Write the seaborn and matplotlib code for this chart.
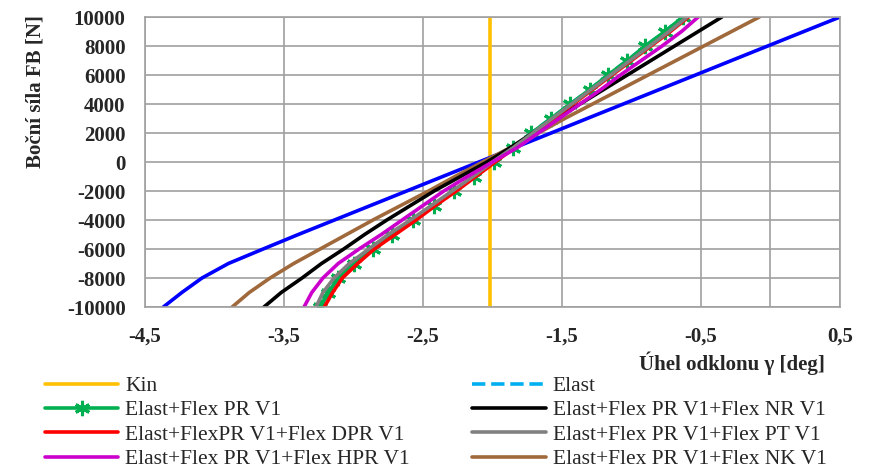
"""
Boční síla FB vs. úhel odklonu gamma for several model variants.
"""
import matplotlib.pyplot as plt
import seaborn as sns
from matplotlib.ticker import FuncFormatter

sns.set_style("white")
plt.rcParams["font.family"] = ["Liberation Serif", "DejaVu Serif"]
plt.rcParams["axes.unicode_minus"] = False

# side force levels [N]
FORCE = [-10000, -9000, -8000, -7000, -6000, -5000, -4000, -3000, -2000, -1000, 0,
         1000, 2000, 3000, 4000, 5000, 6000, 7000, 8000, 9000, 10000]

# camber angle [deg] for each force level
KIN_X = [-2.02, -2.02]
KIN_Y = [-10000, 10000]
PR_V1 = [-3.24, -3.18, -3.11, -3.00, -2.86, -2.72, -2.57, -2.42, -2.28, -2.13, -1.99,
         -1.85, -1.72, -1.58, -1.44, -1.30, -1.17, -1.03, -0.90, -0.76, -0.63]
ELAST = PR_V1
PR_NR = [-3.644, -3.52, -3.37, -3.23, -3.07, -2.92, -2.76, -2.59, -2.42, -2.23, -2.04,
         -1.87, -1.71, -1.54, -1.37, -1.20, -1.03, -0.86, -0.69, -0.52, -0.35]
PR_DPR = [-3.21, -3.15, -3.08, -2.97, -2.85, -2.70, -2.55, -2.41, -2.26, -2.12, -1.98,
          -1.84, -1.70, -1.56, -1.42, -1.28, -1.14, -1.00, -0.86, -0.72, -0.59]
PR_PT = [-3.27, -3.22, -3.14, -3.03, -2.89, -2.75, -2.59, -2.44, -2.29, -2.14, -2.00,
         -1.85, -1.71, -1.57, -1.43, -1.29, -1.15, -1.01, -0.87, -0.73, -0.60]
PR_HPR = [-3.356, -3.30, -3.22, -3.11, -2.96, -2.80, -2.65, -2.50, -2.35, -2.18, -2.00,
          -1.82, -1.67, -1.52, -1.37, -1.22, -1.08, -0.93, -0.78, -0.64, -0.52]
PR_NK = [-3.873, -3.75, -3.60, -3.43, -3.24, -3.05, -2.86, -2.66, -2.46, -2.27, -2.07,
         -1.87, -1.67, -1.48, -1.28, -1.08, -0.88, -0.68, -0.48, -0.28, -0.08]
BLUE = [-4.368, -4.235, -4.09, -3.90, -3.65, -3.397, -3.137, -2.877, -2.617, -2.358, -2.098,
        -1.838, -1.578, -1.319, -1.059, -0.799, -0.539, -0.28, -0.02, 0.24, 0.50]

XTICKS = [-4.5, -3.5, -2.5, -1.5, -0.5, 0.5]
YTICKS = [-10000, -8000, -6000, -4000, -2000, 0, 2000, 4000, 6000, 8000, 10000]

GRID = "#a0a0a0"

fig = plt.figure(figsize=(8.73, 4.73), dpi=100)
ax = fig.add_axes([145 / 873, 1 - 307 / 473, 695 / 873, 290 / 473])

lw = 2.6
sns.lineplot(x=KIN_X, y=KIN_Y, color="#ffc000", linewidth=lw, label="Kin",
             estimator=None, sort=False, ax=ax)
sns.lineplot(x=ELAST, y=FORCE, color="#00b0f0", linewidth=lw, linestyle="--", label="Elast",
             estimator=None, sort=False, ax=ax)
sns.lineplot(x=PR_V1, y=FORCE, color="#00b050", linewidth=lw, marker=(6, 2, 0), markersize=11,
             markeredgewidth=2.2, markeredgecolor="#00b050", label="Elast+Flex PR V1",
             estimator=None, sort=False, ax=ax)
sns.lineplot(x=BLUE, y=FORCE, color="#0000ff", linewidth=lw, label="_nolegend_",
             estimator=None, sort=False, ax=ax)
sns.lineplot(x=PR_NK, y=FORCE, color="#a0693c", linewidth=lw, label="Elast+Flex PR V1+Flex NK V1",
             estimator=None, sort=False, ax=ax)
sns.lineplot(x=PR_NR, y=FORCE, color="black", linewidth=lw, label="Elast+Flex PR V1+Flex NR V1",
             estimator=None, sort=False, ax=ax)
sns.lineplot(x=PR_DPR, y=FORCE, color="#ff0000", linewidth=lw, label="Elast+FlexPR V1+Flex DPR V1",
             estimator=None, sort=False, ax=ax)
sns.lineplot(x=PR_PT, y=FORCE, color="#808080", linewidth=lw, label="Elast+Flex PR V1+Flex PT V1",
             estimator=None, sort=False, ax=ax)
sns.lineplot(x=PR_HPR, y=FORCE, color="#cc00cc", linewidth=lw, label="Elast+Flex PR V1+Flex HPR V1",
             estimator=None, sort=False, ax=ax)

ax.set_xlim(-4.5, 0.5)
ax.set_ylim(-10000, 10000)
ax.set_xticks(XTICKS)
ax.set_yticks(YTICKS)
ax.xaxis.set_major_formatter(FuncFormatter(lambda v, p: "{:.1f}".format(v).replace(".", ",")))
ax.grid(True, color=GRID, linewidth=1.2)
ax.axvline(0, color=GRID, linewidth=1.2, zorder=0.5)
ax.set_axisbelow(True)
for s in ax.spines.values():
    s.set_color(GRID)
    s.set_linewidth(1.2)
ax.tick_params(axis="both", length=0, labelsize=15)
ax.tick_params(axis="x", pad=14)
ax.tick_params(axis="y", pad=14)
for t in ax.get_xticklabels() + ax.get_yticklabels():
    t.set_fontweight("bold")

ax.set_xlabel("Úhel odklonu γ [deg]", fontsize=15, fontweight="bold")
ax.set_ylabel("Boční síla FB [N]", fontsize=15, fontweight="bold")
ax.xaxis.label.set_horizontalalignment("right")
ax.xaxis.set_label_coords(1 - 15 / 695, -44 / 290)
ax.yaxis.set_label_coords(-100 / 695, 0.5 + 70 / 290)

ax.get_legend().remove()
handles, labels = ax.get_legend_handles_labels()
order = ["Kin", "Elast+Flex PR V1", "Elast+FlexPR V1+Flex DPR V1", "Elast+Flex PR V1+Flex HPR V1",
         "Elast", "Elast+Flex PR V1+Flex NR V1", "Elast+Flex PR V1+Flex PT V1",
         "Elast+Flex PR V1+Flex NK V1"]
hmap = dict(zip(labels, handles))
fig.legend([hmap[l] for l in order], order, ncol=2, loc="upper left",
           bbox_to_anchor=(45 / 873, 1 - 376 / 473), frameon=False, fontsize=15.5,
           handlelength=3.4, handletextpad=0.33, columnspacing=2.9, labelspacing=0.2,
           borderpad=0, borderaxespad=0)

plt.savefig("out.png", dpi=100)
